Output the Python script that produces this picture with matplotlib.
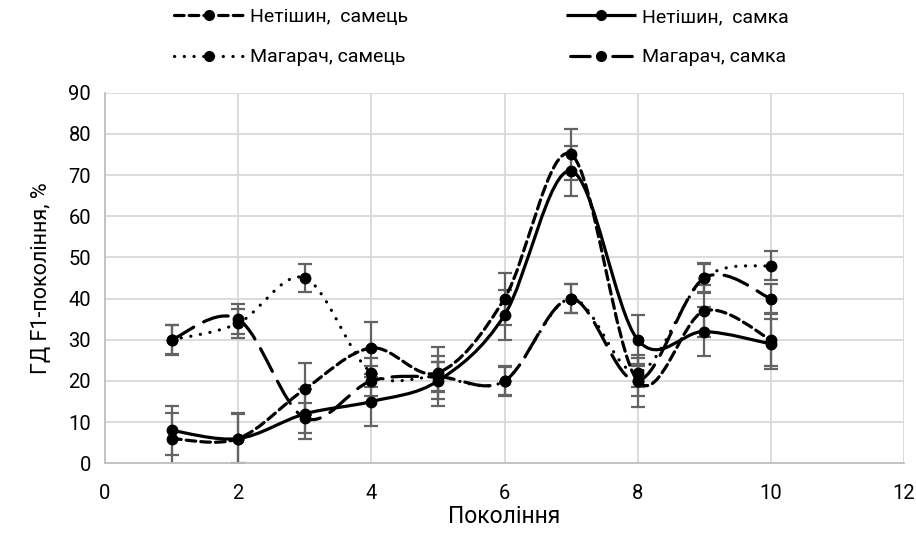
import numpy as np
import matplotlib
matplotlib.use("Agg")
import matplotlib.pyplot as plt
from matplotlib.path import Path
from matplotlib.patches import PathPatch
from matplotlib.lines import Line2D

plt.rcParams["font.family"] = ["Roboto", "DejaVu Sans"]

generations = [1, 2, 3, 4, 5, 6, 7, 8, 9, 10]

netishyn_male = [6, 6, 18, 28, 22, 40, 75, 20, 37, 30]
netishyn_female = [8, 6, 12, 15, 20, 36, 71, 30, 32, 29]
magarach_male = [30, 34, 45, 22, 21, 20, 40, 22, 45, 48]
magarach_female = [30, 35, 11, 20, 21, 20, 40, 20, 45, 40]

err_netishyn_male = 6.3
err_netishyn_female = 6.0
err_magarach_male = 3.5
err_magarach_female = 3.6

labels = ["Нетішин,  самець", "Магарач, самець", "Нетішин,  самка", "Магарач, самка"]

GRID = "#d9d9d9"
ERR = "#636363"
LW = 2.3


def smooth_path(xs, ys):
    # Excel-like smoothing: cubic Bezier through the points (Catmull-Rom)
    p = np.column_stack([xs, ys]).astype(float)
    n = len(p)
    verts = [p[0]]
    codes = [Path.MOVETO]
    for i in range(n - 1):
        p_prev = p[i - 1] if i > 0 else p[i]
        p_next2 = p[i + 2] if i + 2 < n else p[i + 1]
        c1 = p[i] + (p[i + 1] - p_prev) / 6.0
        c2 = p[i + 1] - (p_next2 - p[i]) / 6.0
        verts += [c1, c2, p[i + 1]]
        codes += [Path.CURVE4] * 3
    return Path(verts, codes)


fig = plt.figure(figsize=(9.16, 5.36), dpi=100)
ax = fig.add_axes([105 / 916, 1 - 463.3 / 536, (904 - 105) / 916, (463.3 - 92.7) / 536])

# (values, error, line style on the chart, line style in the legend)
styles = [
    (netishyn_male, err_netishyn_male, (0, (3, 1.6)), (0, (3, 1.6))),
    (magarach_male, err_magarach_male, (0, (0.05, 3.0)), (0, (0.05, 3.0))),
    (netishyn_female, err_netishyn_female, "solid", "solid"),
    (magarach_female, err_magarach_female, (0, (8, 3.5)), (11.9, (6.1, 7.1))),
]

for vals, err, ls, _ in styles:
    ax.errorbar(generations, vals, yerr=err, fmt="none", ecolor=ERR,
                elinewidth=1.6, capsize=5, capthick=1.6, zorder=2)

for vals, err, ls, _ in styles:
    patch = PathPatch(smooth_path(generations, vals), fill=False, edgecolor="black",
                      linewidth=LW, linestyle=ls, capstyle="round", joinstyle="round",
                      zorder=3)
    ax.add_patch(patch)
    ax.plot(generations, vals, "o", color="black", markersize=7.5, zorder=4)

ax.set_xlim(0, 12)
ax.set_ylim(0, 90)
ax.set_xticks(range(0, 13, 2))
ax.set_yticks(range(0, 91, 10))
ax.grid(True, color=GRID, linewidth=1.3, zorder=0)
ax.set_axisbelow(True)
for side in ["top", "right"]:
    ax.spines[side].set_visible(False)
for side in ["left", "bottom"]:
    ax.spines[side].set_color("#bfbfbf")
    ax.spines[side].set_linewidth(1.3)
ax.tick_params(length=0, labelsize=14.5, colors="#000000")
ax.tick_params(axis="x", pad=15)
ax.tick_params(axis="y", pad=10)

ax.set_xlabel("Покоління", fontsize=16.5, labelpad=1)
ax.set_ylabel("ГД F1-покоління, %", fontsize=15.5, labelpad=12)

handles = []
for vals, err, ls, leg_ls in styles:
    handles.append(Line2D([], [], color="black", linewidth=LW, linestyle=leg_ls,
                          marker="o", markersize=7, dash_capstyle="round",
                          solid_capstyle="butt"))

fig.legend(handles, labels, ncol=2, loc="upper left",
           bbox_to_anchor=(174 / 916, 1 - 8 / 536), frameon=False,
           fontsize=14, handlelength=3.6, handletextpad=0.3,
           columnspacing=8.15, labelspacing=1.15, borderpad=0, borderaxespad=0)

fig.savefig("out.png", dpi=100)
